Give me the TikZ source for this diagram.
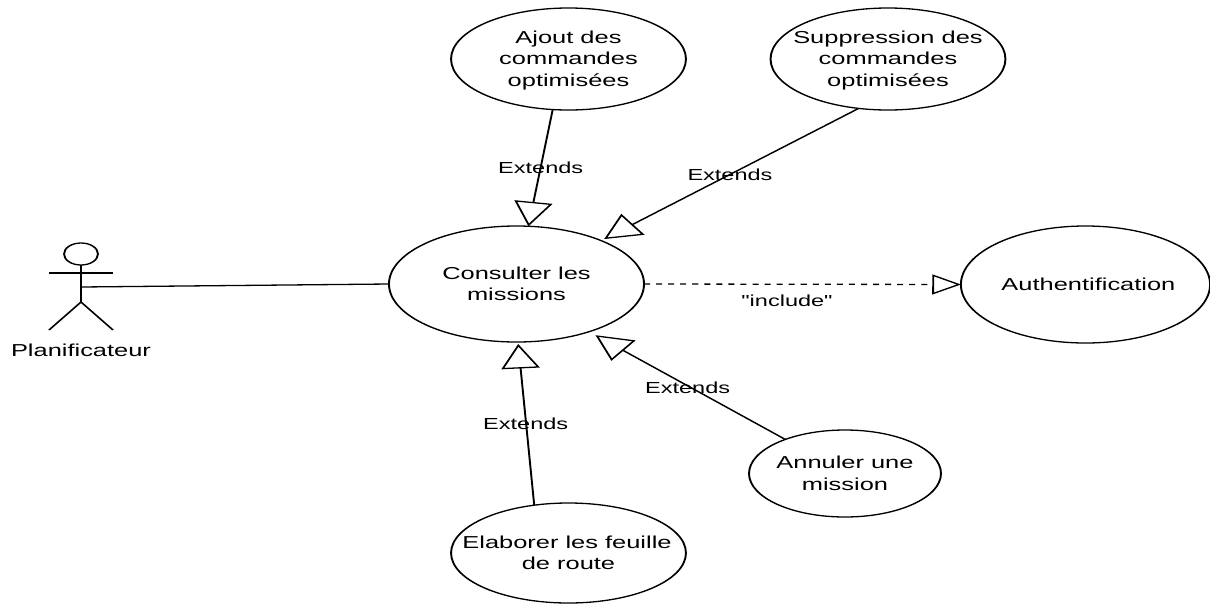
\documentclass[tikz,border=0pt]{standalone}
\usepackage{fontspec}
\setmainfont[Ligatures=TeXOff]{Liberation Sans}
\usetikzlibrary{shapes.geometric,arrows.meta}
\newcommand{\ucstext}[1]{\smash{\makebox[0pt]{\raisebox{-6pt}{\begin{tabular}{@{}c@{}}#1\end{tabular}}}}}
\tikzset{
  umlpen/.style={line width=1.3pt,black,line join=miter},
  txt/.style={font=\fontsize{17.3}{21.3}\selectfont,text=black},
  smalltxt/.style={font=\fontsize{16}{19}\selectfont,text=black},
  usecase/.style={ellipse,draw,umlpen,txt,inner sep=0pt,outer sep=0pt,fill=white},
  lbl/.style={txt,inner sep=0pt,outer sep=0pt,anchor=base},
  edgelbl/.style={smalltxt,inner sep=0pt,outer sep=0pt,anchor=base},
  extends/.style={umlpen,-{Triangle[open,length=24.5pt,width=26pt]}},
  includes/.style={umlpen,dash pattern=on 4.1pt off 4.1pt,-{Triangle[open,length=19.5pt,width=20pt]}},
}
\begin{document}
\begin{tikzpicture}
\useasboundingbox (0,0) rectangle (1210pt,-603pt);
\begin{scope}[transform canvas={xscale=1.47},x=0.68027pt,y=-1pt]
  % use cases
  \node[usecase,minimum width=173.5pt,minimum height=116pt] (consult) at (516.5,284) {\ucstext{Consulter les\\missions}};
  \node[usecase,minimum width=159.8pt,minimum height=102pt] (ajout) at (568.5,59) {\ucstext{Ajout des\\commandes\\optimisées}};
  \node[usecase,minimum width=159.8pt,minimum height=102pt] (suppr) at (888,59) {\ucstext{Suppression des\\commandes\\optimisées}};
  \node[usecase,minimum width=169.5pt,minimum height=117pt] (auth) at (1085.5,284.5) {\ucstext{\hspace*{4pt}Authentification}};
  \node[usecase,minimum width=130.6pt,minimum height=87pt] (annul) at (845,473.5) {\ucstext{Annuler une\\mission}};
  \node[usecase,minimum width=159.8pt,minimum height=100pt] (elab) at (568.5,553) {\ucstext{Elaborer les feuille\hspace*{2pt}\\de route}};
  % actor
  \node[ellipse,draw,umlpen,inner sep=0pt,outer sep=0pt,minimum width=23.1pt,minimum height=22pt] (head) at (81,254) {};
  \coordinate (armL) at (49,273);
  \coordinate (armR) at (113,273);
  \coordinate (hip) at (81,302);
  \coordinate (legL) at (49,330);
  \coordinate (legR) at (113,330);
  \coordinate (waist) at (81,287);
  \draw[umlpen] (head.south) -- (hip);
  \draw[umlpen] (armL) -- (armR);
  \draw[umlpen] (legL) -- (hip) -- (legR);
  \node[lbl] (plan) at (81,356) {Planificateur};
  % connectors
  \draw[umlpen] (waist) -- (consult.west);
  \draw[extends] (ajout.-102.7) -- (consult.82);
  \draw[extends,shorten >=2.6pt] (suppr.-112) -- (consult.37);
  \draw[extends,shorten >=5.6pt] (annul.140.8) -- (consult.-44.6);
  \draw[extends,shorten >=2pt] (elab.116.4) -- (consult.-89);
  \draw[includes] (consult.east) -- (auth.west);
  % labels
  \node[edgelbl] (e1) at (540.7,173) {Extends};
  \node[edgelbl] (e2) at (730,180) {Extends};
  \node[edgelbl] (e3) at (687.6,393.3) {Extends};
  \node[edgelbl] (e4) at (525.7,429) {Extends};
  \node[edgelbl] (inc) at (787,306) {"include"};
\end{scope}
\end{tikzpicture}
\end{document}
